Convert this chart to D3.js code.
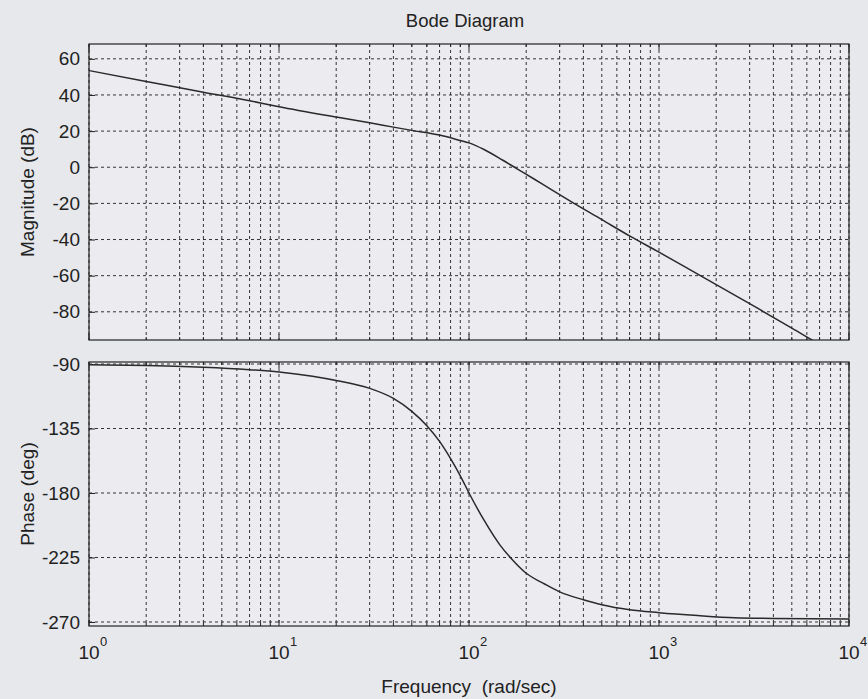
<!DOCTYPE html>
<html>
<head>
<meta charset="utf-8">
<script src="https://cdn.jsdelivr.net/npm/d3@7"></script>
<style>
  body { margin: 0; background: #e7e8ec; }
  svg { display: block; font-family: "Liberation Sans", Arial, sans-serif; }
  .grid line { stroke: #333; stroke-width: 1; stroke-dasharray: 3,3; }
</style>
</head>
<body>
<script>
// magnitude curve
const magFreq = [1, 2, 4, 7, 10, 20, 30, 40, 50, 70, 90, 100, 120, 150, 180, 220, 270, 350, 500, 700, 1000, 1500, 2000, 3000, 5000, 7000, 10000];
const magDb   = [53.5, 47.5, 41.5, 36.8, 33.5, 27.8, 24.6, 22.2, 20.4, 17.8, 14.8, 13.5, 9.8, 4, -1, -6.5, -12.3, -19.5, -29, -38, -47, -57.5, -65, -75.5, -89, -98, -107];

// phase curve
const phFreq = [1, 2, 4, 7, 10, 15, 20, 30, 40, 50, 60, 70, 80, 90, 100, 120, 145, 165, 200, 250, 300, 400, 500, 700, 1000, 1600, 2500, 4000, 10000];
const phDeg  = [-90.5, -91, -92.3, -94, -95.5, -98.5, -101.5, -107, -114, -123, -133, -144, -156, -168, -180, -199, -216, -225, -236, -243.5, -249, -254.5, -258, -261.5, -263.5, -265.5, -267, -267.5, -268];

const magTicks = [60, 40, 20, 0, -20, -40, -60, -80];
const phTicks = [-90, -135, -180, -225, -270];
const decades = [0, 1, 2, 3, 4];

const W = 868, H = 699;
const left = 89, right = 849;
const magTop = 44, magBot = 340;
const phTop = 362, phBot = 626;

const svg = d3.select("body").append("svg")
  .attr("width", W)
  .attr("height", H);

const x = d3.scaleLog().domain([1, 10000]).range([left, right]);
const yMag = d3.scaleLinear().domain([-95.6, 68.2]).range([magBot, magTop]);
const yPh = d3.scaleLinear().domain([-272.8, -88.6]).range([phBot, phTop]);

// every 1..9 x 10^k line
const vLines = [];
for (let k = 0; k < 4; k++) {
  for (let m = 1; m < 10; m++) vLines.push(m * Math.pow(10, k));
}
vLines.push(10000);

function panel(y, top, bot, ticks, freq, vals, id) {
  svg.append("rect")
    .attr("x", left).attr("y", top)
    .attr("width", right - left).attr("height", bot - top)
    .attr("fill", "#ececf0");

  svg.append("clipPath").attr("id", id)
    .append("rect")
    .attr("x", left).attr("y", top)
    .attr("width", right - left).attr("height", bot - top);

  const g = svg.append("g").attr("class", "grid");
  g.selectAll(".v").data(vLines).enter().append("line")
    .attr("x1", d => x(d)).attr("x2", d => x(d))
    .attr("y1", top).attr("y2", bot);
  g.selectAll(".h").data(ticks).enter().append("line")
    .attr("x1", left).attr("x2", right)
    .attr("y1", d => y(d)).attr("y2", d => y(d));

  // y axis, ticks inside, plain hyphen minus
  svg.append("g")
    .attr("transform", `translate(${left},0)`)
    .call(d3.axisLeft(y).tickValues(ticks).tickSize(-6).tickPadding(9).tickFormat(d => String(d)))
    .call(a => a.select(".domain").remove())
    .call(a => a.selectAll("line").attr("stroke", "#222"))
    .call(a => a.selectAll("text").attr("font-size", 19).attr("fill", "#222")
      .attr("font-family", "Liberation Sans, Arial, sans-serif"));

  // x ticks inside (top and bottom)
  const t = svg.append("g").attr("stroke", "#222");
  t.selectAll(".b").data(vLines).enter().append("line")
    .attr("x1", d => x(d)).attr("x2", d => x(d))
    .attr("y1", bot).attr("y2", d => bot - (Number.isInteger(Math.log10(d)) ? 6 : 3));
  t.selectAll(".t").data(vLines).enter().append("line")
    .attr("x1", d => x(d)).attr("x2", d => x(d))
    .attr("y1", top).attr("y2", d => top + (Number.isInteger(Math.log10(d)) ? 6 : 3));

  const line = d3.line()
    .x(d => x(d[0]))
    .y(d => y(d[1]))
    .curve(d3.curveMonotoneX);
  svg.append("path")
    .datum(d3.zip(freq, vals))
    .attr("clip-path", `url(#${id})`)
    .attr("fill", "none")
    .attr("stroke", "#2a2a2a")
    .attr("stroke-width", 1.5)
    .attr("d", line);

  svg.append("rect")
    .attr("x", left).attr("y", top)
    .attr("width", right - left).attr("height", bot - top)
    .attr("fill", "none")
    .attr("stroke", "#222")
    .attr("stroke-width", 1.2);
}

panel(yMag, magTop, magBot, magTicks, magFreq, magDb, "clipMag");
panel(yPh, phTop, phBot, phTicks, phFreq, phDeg, "clipPh");

// decade labels 10^k
const xl = svg.append("g").attr("fill", "#222");
xl.selectAll(".base").data(decades).enter().append("text")
  .attr("x", d => x(Math.pow(10, d)))
  .attr("y", 659)
  .attr("text-anchor", "middle")
  .attr("font-size", 19)
  .text("10");
xl.selectAll(".exp").data(decades).enter().append("text")
  .attr("x", d => x(Math.pow(10, d)) + 11)
  .attr("y", 646)
  .attr("font-size", 13)
  .text(d => d);

svg.append("text")
  .attr("x", (left + right) / 2 - 4).attr("y", 27)
  .attr("text-anchor", "middle")
  .attr("font-size", 18.5)
  .attr("fill", "#222")
  .text("Bode Diagram");

svg.append("text")
  .attr("x", (left + right) / 2).attr("y", 693)
  .attr("text-anchor", "middle")
  .attr("font-size", 19)
  .attr("fill", "#222")
  .attr("xml:space", "preserve")
  .text("Frequency  (rad/sec)");

svg.append("text")
  .attr("transform", `translate(34,${(magTop + magBot) / 2}) rotate(-90)`)
  .attr("text-anchor", "middle")
  .attr("font-size", 19)
  .attr("fill", "#222")
  .text("Magnitude (dB)");

svg.append("text")
  .attr("transform", `translate(34,${(phTop + phBot) / 2}) rotate(-90)`)
  .attr("text-anchor", "middle")
  .attr("font-size", 19)
  .attr("fill", "#222")
  .text("Phase (deg)");
</script>
</body>
</html>
